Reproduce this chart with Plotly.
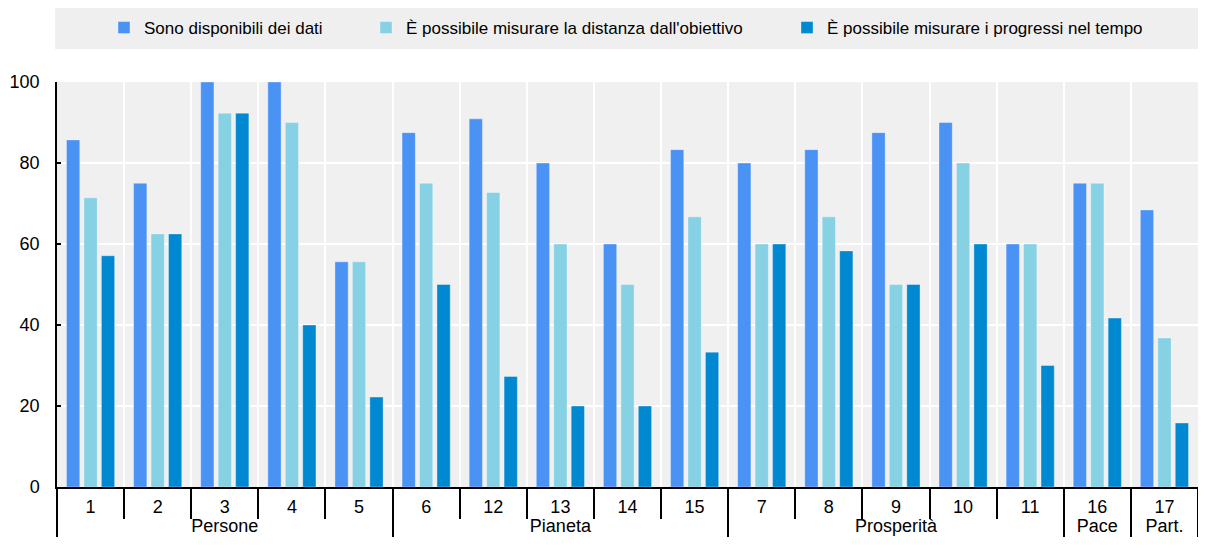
import plotly.graph_objects as go

categories = ["1", "2", "3", "4", "5", "6", "12", "13", "14", "15", "7", "8", "9", "10", "11", "16", "17"]
groups = ["Persone"] * 5 + ["Pianeta"] * 5 + ["Prosperità"] * 5 + ["Pace", "Part."]

series_names = [
    "Sono disponibili dei dati",
    "È possibile misurare la distanza dall'obiettivo",
    "È possibile misurare i progressi nel tempo",
]
data_available = [85.7, 75, 100, 100, 55.6, 87.5, 90.9, 80, 60, 83.3, 80, 83.3, 87.5, 90, 60, 75, 68.4]
distance_measurable = [71.4, 62.5, 92.3, 90, 55.6, 75, 72.7, 60, 50, 66.7, 60, 66.7, 50, 80, 60, 75, 36.8]
progress_measurable = [57.1, 62.5, 92.3, 40, 22.2, 50, 27.3, 20, 20, 33.3, 60, 58.3, 50, 60, 30, 41.7, 15.8]

y_ticks = [0, 20, 40, 60, 80, 100]

colors = ["#4a92f4", "#86d1e4", "#0089d1"]
values = [data_available, distance_measurable, progress_measurable]
legend_ids = ["legend", "legend2", "legend3"]

FONT = "Liberation Sans, Arial, sans-serif"

fig = go.Figure()
for name, vals, col, lg in zip(series_names, values, colors, legend_ids):
    fig.add_trace(go.Bar(
        x=[groups, categories],
        y=vals,
        name=name,
        marker=dict(color=col, line=dict(color="rgba(255,255,255,0.35)", width=1)),
        legend=lg,
        showlegend=True,
    ))

# page body has an 8px default margin; figure is sized so the screen positions match
OFF = 8
W, H = 1206 - OFF, 548 - OFF
ml, mr, mt, mb = 57 - OFF, 8, 82 - OFF, 61
pw, ph = W - ml - mr, H - mt - mb

def px_x(px):
    return (px - OFF - ml) / pw

def px_y(py):
    return 1 + (mt - (py - OFF)) / ph

legend_common = dict(
    orientation="h", bgcolor="rgba(0,0,0,0)", yanchor="middle", xanchor="left",
    font=dict(family=FONT, size=17, color="#000000"), itemwidth=30,
)

fig.update_layout(
    width=W, height=H,
    margin=dict(l=ml, r=mr, t=mt, b=mb, autoexpand=False),
    paper_bgcolor="#ffffff",
    plot_bgcolor="#f0f0f0",
    barmode="group",
    bargap=0.22,
    bargroupgap=0.24,
    showlegend=True,
    font=dict(family=FONT, size=18, color="#000000"),
    legend=dict(x=px_x(104), y=px_y(28), **legend_common),
    legend2=dict(x=px_x(366), y=px_y(28), **legend_common),
    legend3=dict(x=px_x(787), y=px_y(28), **legend_common),
    shapes=[dict(
        type="rect", xref="paper", yref="paper",
        x0=px_x(55), x1=px_x(1210), y0=px_y(49), y1=px_y(7),
        fillcolor="#efefef", line=dict(width=0), layer="below",
    )],
    xaxis=dict(
        type="multicategory",
        automargin=False,
        tickson="boundaries",
        ticks="outside", ticklen=30, tickwidth=1.5, tickcolor="#000000",
        ticklabelstandoff=3,
        showgrid=True, gridcolor="#ffffff", gridwidth=2,
        showline=True, linecolor="#000000", linewidth=1.5,
        showdividers=True, dividercolor="#000000", dividerwidth=1.5,
        tickfont=dict(family=FONT, size=18, color="#000000"),
    ),
    yaxis=dict(
        range=[0, 100], tickvals=y_ticks,
        automargin=False,
        ticks="inside", ticklen=4, tickcolor="#000000", tickwidth=1.5,
        ticklabelstandoff=12,
        showgrid=True, gridcolor="#ffffff", gridwidth=2,
        showline=True, linecolor="#000000", linewidth=1.5,
        zeroline=False,
        tickfont=dict(family=FONT, size=18, color="#000000"),
    ),
)

fig.write_html("out.html")
